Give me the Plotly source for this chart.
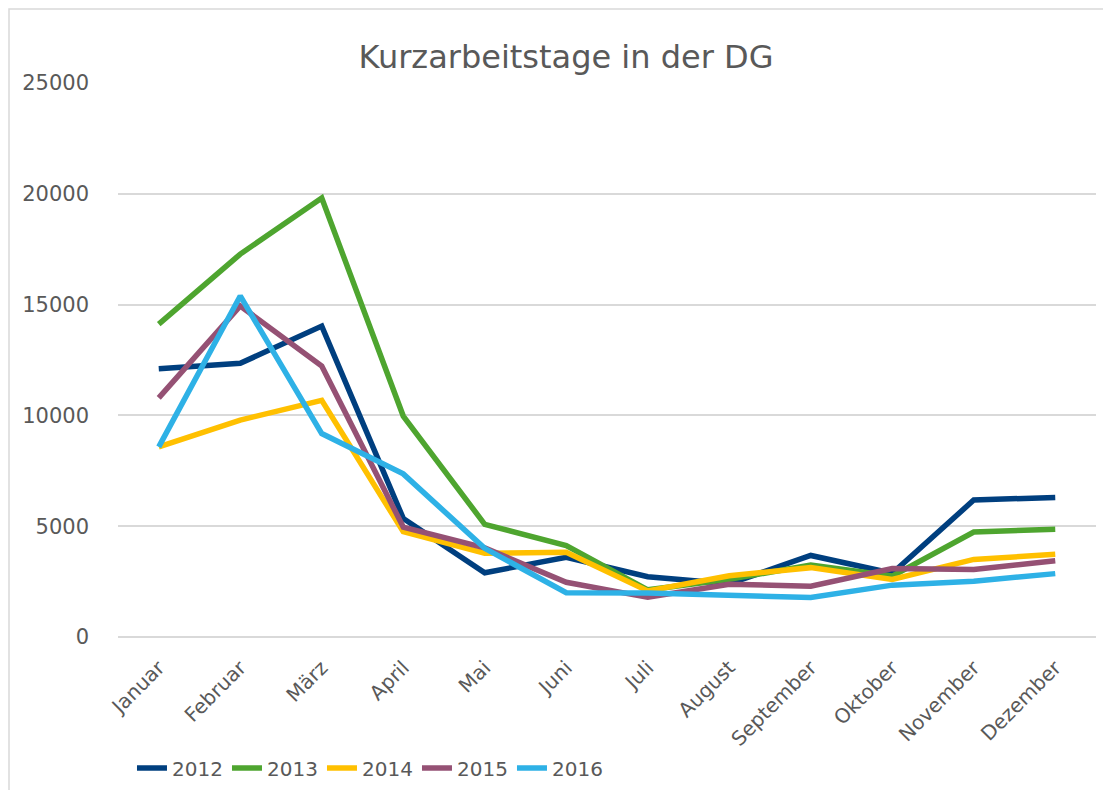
import plotly.graph_objects as go

months = ["Januar", "Februar", "März", "April", "Mai", "Juni", "Juli",
          "August", "September", "Oktober", "November", "Dezember"]

y2012 = [12100, 12350, 14030, 5350, 2900, 3600, 2720, 2400, 3680, 2880, 6180, 6300]
y2013 = [14120, 17280, 19810, 9970, 5085, 4120, 2130, 2600, 3250, 2750, 4740, 4860]
y2014 = [8580, 9790, 10680, 4750, 3780, 3820, 2080, 2760, 3130, 2600, 3500, 3730]
y2015 = [10790, 14940, 12230, 4960, 4020, 2470, 1790, 2380, 2290, 3090, 3050, 3440]
y2016 = [8580, 15390, 9180, 7360, 4000, 2000, 1990, 1860, 1780, 2340, 2520, 2860]

series = [("2012", y2012, "#003F7F"),
          ("2013", y2013, "#4EA52F"),
          ("2014", y2014, "#FFC000"),
          ("2015", y2015, "#955174"),
          ("2016", y2016, "#2EB1E6")]

font_family = "'DejaVu Sans', sans-serif"
txt = "#595959"

fig = go.Figure()
for name, vals, col in series:
    fig.add_trace(go.Scatter(x=months, y=vals, name=name, mode="lines",
                             line=dict(color=col, width=5.5)))

fig.update_layout(
    width=1111, height=790,
    paper_bgcolor="white", plot_bgcolor="white",
    margin=dict(l=110, r=23, t=75, b=161, autoexpand=False),
    font=dict(family=font_family, color=txt, size=19),
    title=dict(text="Kurzarbeitstage in der DG", x=558 / 1111, xref="container",
               y=1 - 49 / 790, yref="container", xanchor="center", yanchor="middle",
               font=dict(size=32, color=txt, family=font_family)),
    showlegend=True,
    legend=dict(orientation="h", x=0.0143, y=-0.2365, xanchor="left", yanchor="middle",
                font=dict(size=20, color=txt), entrywidth=50, entrywidthmode="pixels",
                traceorder="normal"),
    shapes=[dict(type="rect", xref="paper", yref="paper",
                 x0=-109 / 978, x1=1.2, y0=-1, y1=1 + 74 / 554,
                 line=dict(color="#D9D9D9", width=1.5), fillcolor="rgba(0,0,0,0)",
                 layer="below")],
)

fig.update_xaxes(showgrid=False, showline=False, zeroline=False, tickangle=-45,
                 tickfont=dict(size=20, color=txt), ticks="", range=[-0.5, 11.5],
                 ticklabelstandoff=14, automargin=False)
fig.update_yaxes(range=[0, 25000], dtick=5000, showgrid=True, gridcolor="#D9D9D9",
                 gridwidth=1.5, zeroline=True, zerolinecolor="#D9D9D9", zerolinewidth=1.5,
                 showline=False, tickfont=dict(size=21, color=txt), ticklabelstandoff=28,
                 tickformat="d", automargin=False)

fig.write_html("out.html")
